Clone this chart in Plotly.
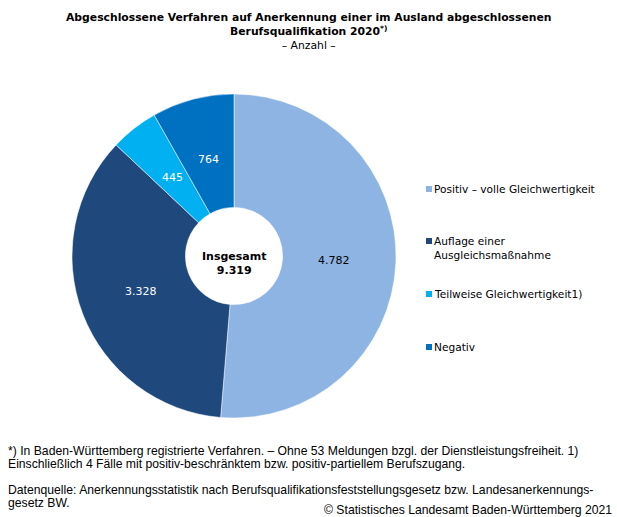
import math
import plotly.graph_objects as go

W, H = 617, 517

categories = ["Positiv – volle Gleichwertigkeit", "Auflage einer Ausgleichsmaßnahme",
              "Teilweise Gleichwertigkeit1)", "Negativ"]
legend_labels = ["Positiv – volle Gleichwertigkeit", "Auflage einer<br>Ausgleichsmaßnahme",
                 "Teilweise Gleichwertigkeit1)", "Negativ"]
values = [4782, 3328, 445, 764]
colors = ["#8EB4E3", "#1F497D", "#00B0F0", "#0070C0"]
text_colors = ["#000000", "#FFFFFF", "#FFFFFF", "#FFFFFF"]
total_label = "Insgesamt<br>9.319"
footnote_lines = [
    "*) In Baden-Württemberg registrierte Verfahren. – Ohne 53 Meldungen bzgl. der Dienstleistungsfreiheit. 1)",
    "Einschließlich 4 Fälle mit positiv-beschränktem bzw. positiv-partiellem Berufszugang.",
    "",
    "Datenquelle: Anerkennungsstatistik nach Berufsqualifikationsfeststellungsgesetz bzw. Landesanerkennungs-",
    "gesetz BW.",
]
copyright_text = "© Statistisches Landesamt Baden-Württemberg 2021"

def px(x):
    return x / W

def py(y):
    return 1 - y / H

def fmt_de(v):
    return f"{v:,}".replace(",", ".")

cx, cy, r = 234, 256, 162

fig = go.Figure(go.Pie(
    labels=categories,
    values=values,
    sort=False,
    direction="clockwise",
    rotation=0,
    hole=0.3,
    marker=dict(colors=colors, line=dict(color="#FFFFFF", width=0.5)),
    textinfo="none",
    showlegend=False,
    hoverinfo="label+value",
    domain=dict(x=[px(cx - r), px(cx + r)], y=[py(cy + r), py(cy - r)]),
))

ann = []
# value labels placed at mid-angle of each slice
total = sum(values)
cum = 0
label_r = 100
for v, tc in zip(values, text_colors):
    mid = (cum + v / 2) / total * 2 * math.pi
    cum += v
    lx = cx + label_r * math.sin(mid)
    ly = cy - label_r * math.cos(mid)
    ann.append(dict(x=px(lx), y=py(ly), xref="paper", yref="paper", xanchor="center", yanchor="middle",
                    text=fmt_de(v), showarrow=False,
                    font=dict(family="DejaVu Sans", size=11, color=tc)))

ann.append(dict(x=0.5, y=py(9), xref="paper", yref="paper", xanchor="center", yanchor="top",
                text="<b>Abgeschlossene Verfahren auf Anerkennung einer im Ausland abgeschlossenen<br>"
                     "Berufsqualifikation 2020<sup>*)</sup></b><br>– Anzahl –",
                showarrow=False, align="center",
                font=dict(family="DejaVu Sans", size=10.8, color="#000000")))
ann.append(dict(x=px(cx), y=py(cy + 7), xref="paper", yref="paper", xanchor="center", yanchor="middle",
                text="<b>" + total_label + "</b>", showarrow=False, align="center",
                font=dict(family="DejaVu Sans", size=11, color="#000000")))

legend_y = [189, 241, 294, 347]
shapes = []
for lab, col, ly in zip(legend_labels, colors, legend_y):
    shapes.append(dict(type="rect", xref="paper", yref="paper",
                       x0=px(426), x1=px(432), y0=py(ly + 3), y1=py(ly - 3),
                       fillcolor=col, line=dict(width=0)))
    ann.append(dict(x=px(432), y=py(ly - 8), xref="paper", yref="paper", xanchor="left", yanchor="top",
                    text=lab, showarrow=False, align="left",
                    font=dict(family="DejaVu Sans", size=10.6, color="#000000")))

foot_font = dict(family="Liberation Sans", size=12.2, color="#000000")
for i, line in enumerate(footnote_lines):
    if not line:
        continue
    ann.append(dict(x=px(6), y=py(451 + 13 * i), xref="paper", yref="paper", xanchor="left", yanchor="middle",
                    text=line, showarrow=False, align="left", font=foot_font))
ann.append(dict(x=px(614), y=py(510), xref="paper", yref="paper", xanchor="right", yanchor="middle",
                text=copyright_text, showarrow=False, align="right", font=foot_font))

fig.update_layout(
    width=W, height=H,
    margin=dict(l=0, r=0, t=0, b=0),
    paper_bgcolor="#FFFFFF", plot_bgcolor="#FFFFFF",
    separators=",.",
    annotations=ann, shapes=shapes,
)

fig.write_html("out.html", config={"displayModeBar": False},
               post_script="document.body.style.margin='0';document.body.style.padding='0';document.body.style.overflow='hidden';")
